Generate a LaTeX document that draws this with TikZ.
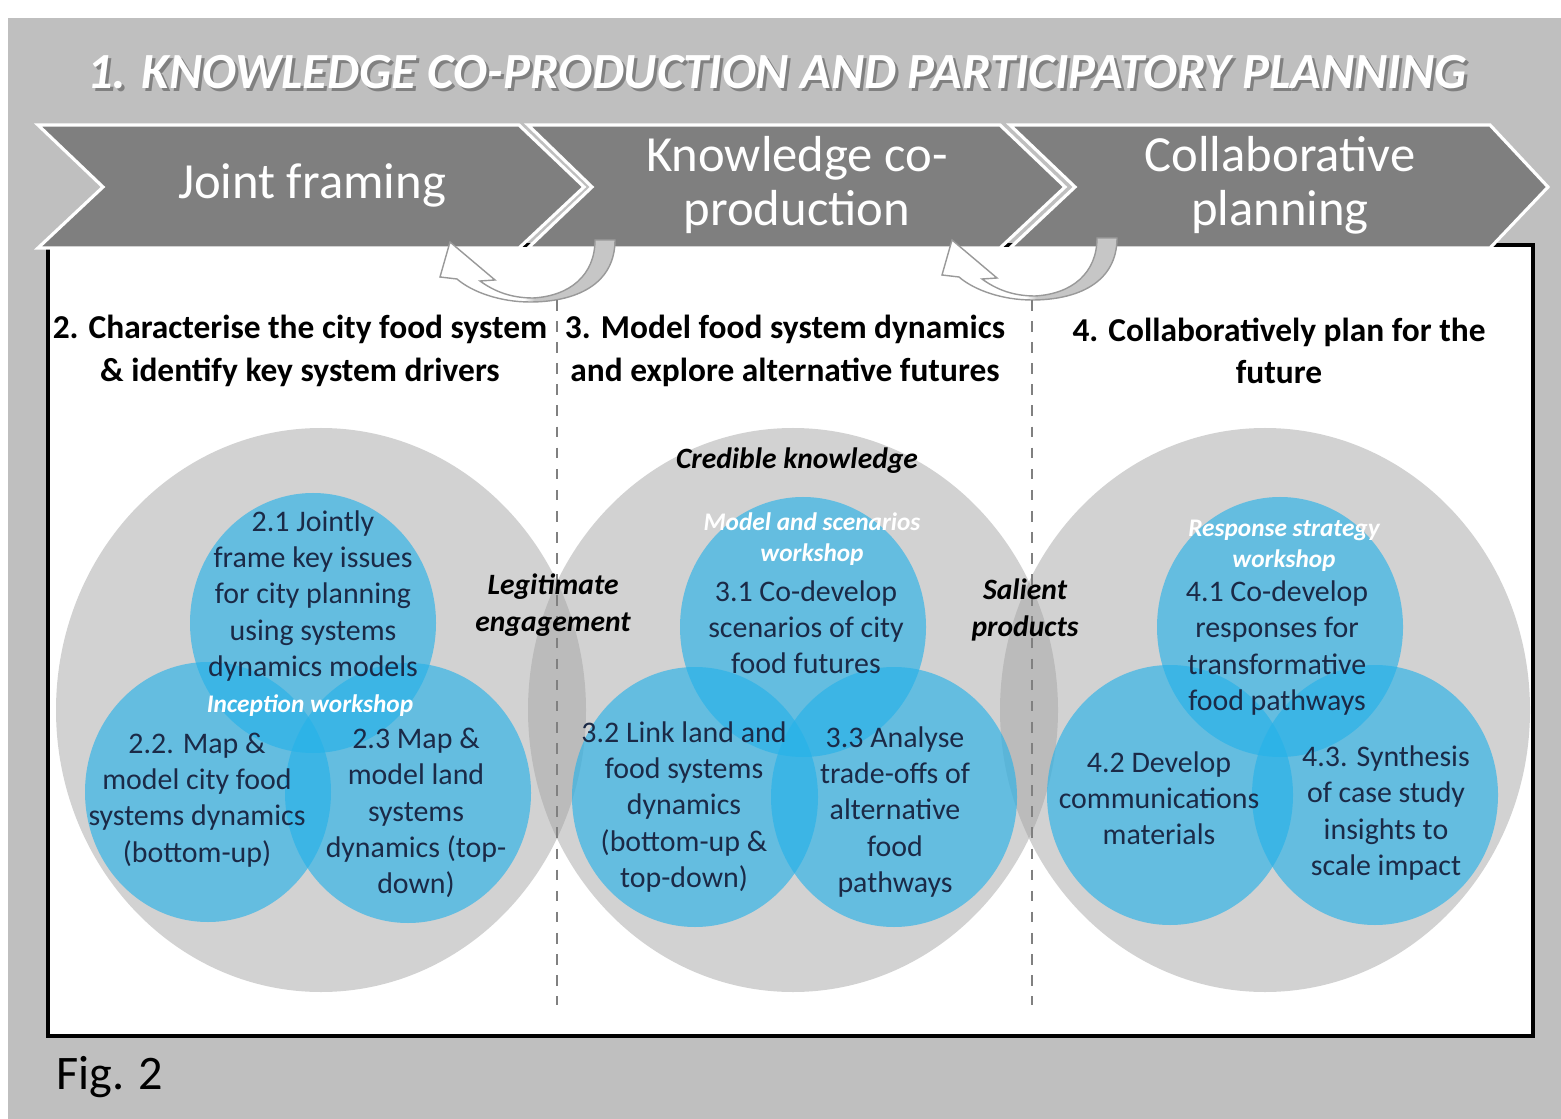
\documentclass[tikz,border=0pt]{standalone}
\usepackage{fontspec}
\setmainfont{Carlito}
\usetikzlibrary{positioning}
\definecolor{panelgrey}{HTML}{BFBFBF}
\definecolor{chevgrey}{HTML}{7F7F7F}
\definecolor{ringgrey}{RGB}{163,163,163}
\definecolor{taskblue}{RGB}{38,178,233}
\definecolor{tasktext}{HTML}{1B2A47}
\definecolor{arrowgrey}{HTML}{C6C6C6}
\pgfdeclarehorizontalshading{loopshade}{100bp}{color(0bp)=(white); color(49bp)=(white); color(52bp)=(arrowgrey); color(100bp)=(arrowgrey)}
\tikzset{
	food system figure/.style={
		x=0.01cm, y=-0.01cm,
		font=\fontsize{8.5}{10.3}\selectfont,
		stage chevron/.style={
			fill=chevgrey,
			draw=white,
			line width=0.9pt,
			line join=miter
		},
		stage label/.style={
			text=white,
			align=center,
			font=\fontsize{14.4}{15.4}\selectfont
		},
		loop arrow/.style={
			shading=loopshade,
			draw=gray!80,
			line width=0.4pt
		},
		step heading/.style={
			align=center,
			font=\fontsize{9.5}{12}\selectfont\bfseries
		},
		quality label/.style={
			align=center,
			font=\fontsize{8.4}{10.5}\selectfont\bfseries\itshape
		},
		workshop label/.style={
			text=white,
			align=center,
			font=\fontsize{7.2}{8.8}\selectfont\bfseries\itshape
		},
		task text/.style={
			text=tasktext,
			align=center,
			inner sep=0pt
		},
		step ring/.style={fill=ringgrey, fill opacity=0.48},
		task circle/.style={fill=taskblue, fill opacity=0.64},
		stage divider/.style={gray, dashed, line width=0.3pt}
	}
}
\begin{document}
\begin{tikzpicture}[food system figure]
	% background and frame
	\fill[white] (0,0) rectangle (1561,1119);
	\fill[panelgrey] (8,18) rectangle (1561,1119);
	\draw[fill=white, line width=1pt] (48,245) rectangle (1533,1036);

	% title
	\node[text=black!60, opacity=0.7, font=\fontsize{14.4}{16}\selectfont\bfseries\itshape] (title shadow) at (780,75) {1. KNOWLEDGE CO-PRODUCTION AND PARTICIPATORY PLANNING};
	\node[text=white, font=\fontsize{14.4}{16}\selectfont\bfseries\itshape] (title) at (777,72) {1. KNOWLEDGE CO-PRODUCTION AND PARTICIPATORY PLANNING};

	% stages
	\draw[stage chevron] (1010,125) -- (1490,125) -- (1548,187) -- (1490,248) -- (1010,248) -- (1075,187) -- cycle;
	\draw[stage chevron] (528,125) -- (1000,125) -- (1065,187) -- (1000,248) -- (528,248) -- (592,187) -- cycle;
	\draw[stage chevron] (38,125) -- (519,125) -- (584,187) -- (519,248) -- (38,248) -- (103,187) -- cycle;
	\node[stage label] (joint) at (312,185) {Joint framing};
	\node[stage label] (coprod) at (797,185) {Knowledge co-\\production};
	\node[stage label] (collab) at (1280,185) {Collaborative\\planning};

	% feedback loops
	\foreach \dx/\dy in {0/0, 502/-2} {
		\begin{scope}[shift={(\dx,\dy)}]
			\draw[loop arrow] (615,240) .. controls (615,285) and (575,302) .. (530,302)
				.. controls (500,302) and (472,292) .. (457,279) -- (440,277) -- (450,242) -- (495,280)
				-- (480,281) .. controls (495,292) and (512,298) .. (533,298)
				.. controls (570,296) and (595,275) .. (595,240) -- cycle;
		\end{scope}
	}

	% step headings
	\node[step heading] (step2) at (300,351) {2. Characterise the city food system\\\& identify key system drivers};
	\node[step heading] (step3) at (785,351) {3. Model food system dynamics\\and explore alternative futures};
	\node[step heading] (step4) at (1279,351) {4. Collaboratively plan for the\\future};

	% rings
	\fill[step ring] (321,710) ellipse [x radius=265, y radius=282];
	\fill[step ring] (793,710) ellipse [x radius=265, y radius=282];
	\fill[step ring] (1265,710) ellipse [x radius=265, y radius=282];
	\draw[stage divider] (557,300) -- (557,1005);
	\draw[stage divider] (1032,300) -- (1032,1005);

	% task circles
	\fill[task circle] (313,623) ellipse [x radius=123, y radius=130];
	\fill[task circle] (208,792) ellipse [x radius=123, y radius=130];
	\fill[task circle] (408,793) ellipse [x radius=123, y radius=130];
	\fill[task circle] (803,627) ellipse [x radius=123, y radius=130];
	\fill[task circle] (695,797) ellipse [x radius=123, y radius=130];
	\fill[task circle] (894,797) ellipse [x radius=123, y radius=130];
	\fill[task circle] (1280,627) ellipse [x radius=123, y radius=130];
	\fill[task circle] (1170,795) ellipse [x radius=123, y radius=130];
	\fill[task circle] (1375,795) ellipse [x radius=123, y radius=130];

	% quality labels
	\node[quality label] (credible) at (797,461) {Credible knowledge};
	\node[quality label] (legitimate) at (553,605) {Legitimate\\engagement};
	\node[quality label] (salient) at (1025,610) {Salient\\products};

	% workshops
	\node[workshop label] (inception) at (310,706) {Inception workshop};
	\node[workshop label] (scenarioshop) at (812,539) {Model and scenarios\\workshop};
	\node[workshop label] (responseshop) at (1284,546) {Response strategy\\workshop};

	% tasks
	\node[task text] (t21) at (313,596) {2.1 Jointly\\frame key issues\\for city planning\\using systems\\dynamics models};
	\node[task text] (t22) at (197,800) {2.2. Map \&\\model city food\\systems dynamics\\(bottom-up)};
	\node[task text] (t23) at (416,813) {2.3 Map \&\\model land\\systems\\dynamics (top-\\down)};
	\node[task text] (t31) at (806,627) {3.1 Co-develop\\scenarios of city\\food futures};
	\node[task text] (t32) at (684,807) {3.2 Link land and\\food systems\\dynamics\\(bottom-up \&\\top-down)};
	\node[task text] (t33) at (895,812) {3.3 Analyse\\trade-offs of\\alternative\\food\\pathways};
	\node[task text] (t41) at (1277,648) {4.1 Co-develop\\responses for\\transformative\\food pathways};
	\node[task text] (t42) at (1159,798) {4.2 Develop\\communications\\materials};
	\node[task text] (t43) at (1386,813) {4.3. Synthesis\\of case study\\insights to\\scale impact};

	\node[font=\fontsize{13.7}{16}\selectfont] (figlabel) at (110,1077) {Fig. 2};
\end{tikzpicture}
\end{document}
